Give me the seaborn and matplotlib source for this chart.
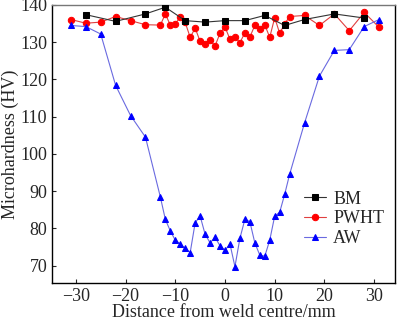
import matplotlib
matplotlib.use("Agg")
import matplotlib.pyplot as plt
import seaborn as sns
import pandas as pd

bm_x = [-28, -22, -16, -12, -8, -4, 0, 4, 8, 12, 16, 22, 28]
bm_y = [137.4, 135.6, 137.6, 139.4, 135.8, 135.4, 135.8, 135.8, 137.2, 134.5, 136.1, 137.6, 136.5]

pw_x = [-31, -28, -25, -22, -19, -16, -13, -12, -11, -10, -9, -8, -7, -6, -5, -4, -3, -2, -1,
        0, 1, 2, 3, 4, 5, 6, 7, 8, 9, 10, 11, 12, 13, 16, 19, 22, 25, 28, 31]
pw_y = [136.1, 135.1, 135.4, 136.9, 135.8, 134.7, 134.6, 137.6, 134.6, 135.0, 136.7, 135.3, 131.3,
        133.8, 130.2, 129.5, 130.5, 129.0, 132.4, 134.1, 130.8, 131.4, 129.9, 132.5, 131.4,
        134.5, 133.6, 134.7, 131.3, 136.6, 132.4, 134.9, 136.9, 137.2, 134.5, 137.6, 133.1, 138.0, 134.0]

aw_x = [-31, -28, -25, -22, -19, -16, -13, -12, -11, -10, -9, -8, -7, -6, -5, -4, -3, -2, -1,
        0, 1, 2, 3, 4, 5, 6, 7, 8, 9, 10, 11, 12, 13, 16, 19, 22, 25, 28, 31]
aw_y = [134.5, 134.2, 132.2, 118.4, 110.3, 104.5, 88.4, 82.4, 79.3, 76.8, 75.8, 74.6, 73.5,
        81.5, 83.3, 78.4, 76.1, 77.6, 75.3, 74.1, 75.8, 69.7, 77.3, 82.4, 81.8, 76.1, 72.8,
        72.5, 76.8, 83.3, 84.3, 89.1, 94.5, 108.3, 120.9, 127.8, 128.0, 134.2, 136.1]

x_ticks = [-30, -20, -10, 0, 10, 20, 30]
y_ticks = [70, 80, 90, 100, 110, 120, 130, 140]

sns.set_style("ticks")
plt.rcParams['font.family'] = ['Liberation Serif', 'DejaVu Serif']

fig = plt.figure(figsize=(4.0, 3.22), dpi=100)
ax = fig.add_axes([0.13, 0.121, 0.8575, 0.8635])

bm = pd.DataFrame({"x": bm_x, "y": bm_y})
pw = pd.DataFrame({"x": pw_x, "y": pw_y})
aw = pd.DataFrame({"x": aw_x, "y": aw_y})

sns.lineplot(data=bm, x="x", y="y", ax=ax, sort=False, color="#333333", lw=0.8,
             marker="s", markersize=3.8, markerfacecolor="black", markeredgecolor="black",
             label="BM", zorder=3)
sns.lineplot(data=pw, x="x", y="y", ax=ax, sort=False, color="#e04040", lw=0.8,
             marker="o", markersize=4.6, markerfacecolor="#ff0000", markeredgecolor="#ff0000",
             label="PWHT", zorder=2)
sns.lineplot(data=aw, x="x", y="y", ax=ax, sort=False, color="#6a6ae0", lw=0.8,
             marker="^", markersize=4.8, markerfacecolor="#0000ff", markeredgecolor="#0000ff",
             label="AW", zorder=2)

ax.set_xlim(-34.8, 34.2)
ax.set_ylim(65.3, 140)
ax.set_xticks(x_ticks)
ax.set_xticklabels(["\u221230", "\u221220", "\u221210", "0", "10", "20", "30"])
ax.set_yticks(y_ticks)
ax.tick_params(direction="in", length=3, width=0.8, labelsize=13, pad=3.5,
               top=False, right=False)
for s in ["left", "bottom", "right"]:
    ax.spines[s].set_color("black")
    ax.spines[s].set_linewidth(1.0)
ax.spines["top"].set_color("#777777")
ax.spines["top"].set_linewidth(1.0)

ax.set_xlabel("Distance from weld centre/mm", fontsize=13, labelpad=-1)
ax.set_ylabel("Microhardness (HV)", fontsize=13, labelpad=1)

leg = ax.legend(loc="lower right", bbox_to_anchor=(1.0, 0.09), frameon=False,
                fontsize=13, handlelength=1.2, handletextpad=0.4, labelspacing=0.15,
                borderaxespad=0.2)

fig.savefig("out.png", dpi=100)
